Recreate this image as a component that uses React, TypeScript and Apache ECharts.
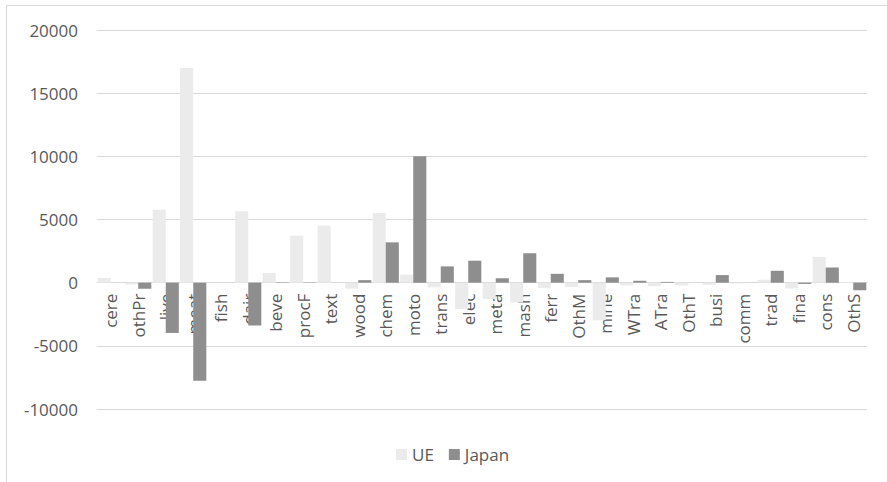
import React, { useEffect, useRef } from "react";
import * as echarts from "echarts";

const categories = [
  "cere", "othPr", "live", "meat", "fish", "dair", "beve", "procF", "text", "wood",
  "chem", "moto", "trans", "elec", "meta", "mash", "ferr", "OthM", "mine", "WTra",
  "ATra", "OthT", "busi", "comm", "trad", "fina", "cons", "OthS",
];

const ueValues = [
  380, -150, 5780, 17000, 0, 5650, 770, 3720, 4510, -470,
  5520, 630, -370, -2090, -1290, -1560, -420, -340, -2980, -220,
  -280, -230, -170, -60, 230, -460, 2040, 60,
];

const japanValues = [
  0, -480, -3980, -7770, 0, -3390, 30, 20, 0, 200,
  3190, 10000, 1290, 1740, 350, 2330, 700, 200, 420, 150,
  60, 0, 600, 0, 940, -100, 1200, -600,
];

const seriesNames = ["UE", "Japan"];
const yTicks = { min: -10000, max: 20000, interval: 5000 };

export default function App() {
  const ref = useRef<HTMLDivElement>(null);
  useEffect(() => {
    if (!ref.current) return;
    const chart = echarts.init(ref.current, null, { renderer: "svg" });
    const font = "'Open Sans', sans-serif";
    const textColor = "#595959";
    const gridTop = 30;
    const gridBottom = 73;
    const plotH = 482 - gridTop - gridBottom;
    const zeroOffset = -plotH * (0 - yTicks.min) / (yTicks.max - yTicks.min);
    chart.setOption({
      animation: false,
      backgroundColor: "#ffffff",
      graphic: [
        {
          type: "rect",
          shape: { x: 6.5, y: 5.5, width: 900, height: 500 },
          style: { fill: "none", stroke: "#d9d9d9", lineWidth: 1 },
          silent: true,
        },
      ],
      grid: { left: 97, right: 20, top: gridTop, bottom: gridBottom },
      legend: {
        data: seriesNames,
        left: 391,
        top: 441,
        itemWidth: 11,
        itemHeight: 11,
        itemGap: 15,
        icon: "rect",
        textStyle: { color: textColor, fontFamily: font, fontSize: 17 },
      },
      xAxis: {
        type: "category",
        data: categories,
        position: "bottom",
        offset: zeroOffset,
        axisLine: { onZero: false, lineStyle: { color: "#d9d9d9", width: 1 } },
        axisTick: { show: false },
        axisLabel: {
          rotate: 90,
          interval: 0,
          margin: 11,
          color: textColor,
          fontFamily: font,
          fontSize: 17,
        },
        z: 0,
      },
      yAxis: {
        type: "value",
        min: yTicks.min,
        max: yTicks.max,
        interval: yTicks.interval,
        axisLine: { show: false },
        axisTick: { show: false },
        splitLine: { lineStyle: { color: "#d9d9d9", width: 1 } },
        axisLabel: {
          margin: 19,
          color: textColor,
          fontFamily: font,
          fontSize: 17,
          formatter: (v: number) => String(v),
        },
      },
      series: [
        {
          name: seriesNames[0],
          type: "bar",
          data: ueValues,
          itemStyle: { color: "#ebebeb" },
          barCategoryGap: "5%",
          barGap: "0%",
        },
        {
          name: seriesNames[1],
          type: "bar",
          data: japanValues,
          itemStyle: { color: "#8e8e8e" },
          barCategoryGap: "5%",
          barGap: "0%",
        },
      ],
    });
    return () => chart.dispose();
  }, []);
  return (
    <div
      ref={ref}
      style={{ position: "fixed", left: 0, top: 0, width: 887, height: 482 }}
    />
  );
}
